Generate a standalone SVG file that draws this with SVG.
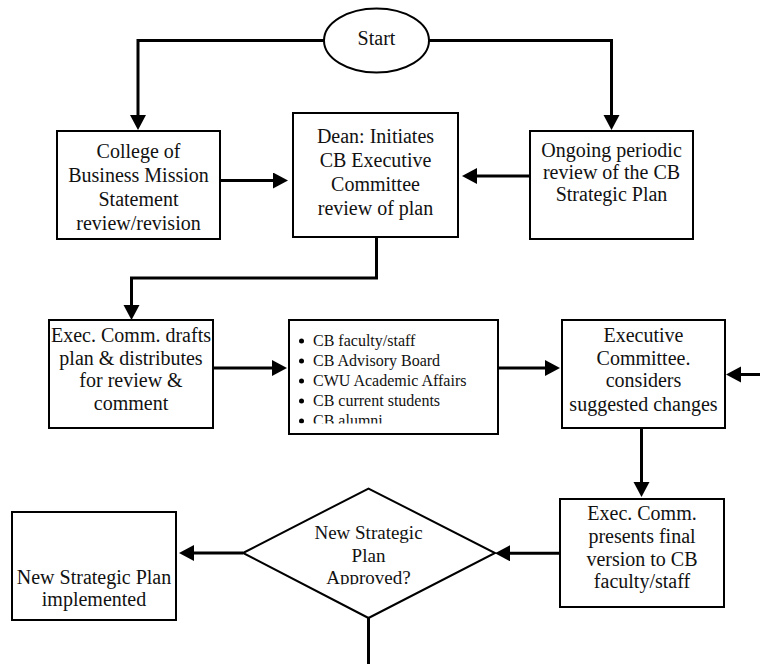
<svg xmlns="http://www.w3.org/2000/svg" width="760" height="664" viewBox="0 0 760 664">
<style>
  .box { fill: #fff; stroke: #000; stroke-width: 2; }
  .con { fill: none; stroke: #000; stroke-width: 3; marker-end: url(#arr); }
  .line { fill: none; stroke: #000; stroke-width: 3; }
  text { font-family: "Liberation Serif", "Times New Roman", serif; font-size: 20px; fill: #111; text-anchor: middle; }
  .li { font-size: 16px; text-anchor: start; }
</style>
<defs>
  <marker id="arr" markerUnits="userSpaceOnUse" markerWidth="16" markerHeight="17" refX="3" refY="8" orient="auto">
    <path d="M0,0 L15,8 L0,16 z" fill="#000"/>
  </marker>
  <clipPath id="clipList"><rect x="289" y="320" width="209" height="103.5"/></clipPath>
  <clipPath id="clipDia"><rect x="240" y="485" width="260" height="99.5"/></clipPath>
</defs>
<rect width="760" height="664" fill="#fff"/>

<g id="connectors">
  <path class="con" d="M324,40.5 H138 V118"/>
  <path class="con" d="M429,40.5 H611.5 V118"/>
  <path class="con" d="M220,180.5 H276"/>
  <path class="con" d="M530,176 H474"/>
  <path class="con" d="M376.5,237 V278 H131.5 V308"/>
  <path class="con" d="M213,368 H275"/>
  <path class="con" d="M498,368 H548"/>
  <path class="con" d="M760,374.5 H738"/>
  <path class="con" d="M641.5,428 V485"/>
  <path class="con" d="M560,553.3 H507"/>
  <path class="con" d="M243,553 H191"/>
  <path class="line" d="M368.5,618 V664"/>
</g>

<g id="start">
  <ellipse class="box" cx="376.5" cy="40.5" rx="52.5" ry="32"/>
  <text x="376.5" y="45">Start</text>
</g>

<g id="college">
  <rect class="box" x="57" y="131" width="163" height="108"/>
  <text x="138.5" y="158">College of</text>
  <text x="138.5" y="182">Business Mission</text>
  <text x="138.5" y="206">Statement</text>
  <text x="138.5" y="230">review/revision</text>
</g>

<g id="dean">
  <rect class="box" x="293" y="113" width="165" height="124"/>
  <text x="375.5" y="143">Dean: Initiates</text>
  <text x="375.5" y="167">CB Executive</text>
  <text x="375.5" y="191">Committee</text>
  <text x="375.5" y="215">review of plan</text>
</g>

<g id="ongoing">
  <rect class="box" x="530" y="131" width="163" height="108"/>
  <text x="611.5" y="157">Ongoing periodic</text>
  <text x="611.5" y="179">review of the CB</text>
  <text x="611.5" y="201">Strategic Plan</text>
</g>

<g id="drafts">
  <rect class="box" x="49" y="320" width="164" height="108"/>
  <text x="131" y="342">Exec. Comm. drafts</text>
  <text x="131" y="364.5">plan &amp; distributes</text>
  <text x="131" y="387">for review &amp;</text>
  <text x="131" y="410">comment</text>
</g>

<g id="reviewers">
  <rect class="box" x="289" y="320" width="209" height="114"/>
  <g clip-path="url(#clipList)">
    <circle cx="301.5" cy="341" r="2.5"/>
    <circle cx="301.5" cy="361" r="2.5"/>
    <circle cx="301.5" cy="381" r="2.5"/>
    <circle cx="301.5" cy="401" r="2.5"/>
    <circle cx="301.5" cy="421" r="2.5"/>
    <text class="li" x="313" y="346">CB faculty/staff</text>
    <text class="li" x="313" y="366">CB Advisory Board</text>
    <text class="li" x="313" y="386">CWU Academic Affairs</text>
    <text class="li" x="313" y="406">CB current students</text>
    <text class="li" x="313" y="426">CB alumni</text>
  </g>
</g>

<g id="executive">
  <rect class="box" x="562" y="320" width="163" height="108"/>
  <text x="643.5" y="342">Executive</text>
  <text x="643.5" y="364.5">Committee.</text>
  <text x="643.5" y="387">considers</text>
  <text x="643.5" y="410.5">suggested changes</text>
</g>

<g id="presents">
  <rect class="box" x="560" y="499" width="164" height="108"/>
  <text x="642" y="520">Exec. Comm.</text>
  <text x="642" y="543">presents final</text>
  <text x="642" y="566">version to CB</text>
  <text x="642" y="588">faculty/staff</text>
</g>

<g id="decision">
  <polygon class="box" points="243,553 368.5,488.5 495,553 368.5,618"/>
  <g clip-path="url(#clipDia)">
    <text x="368.5" y="538.5" style="font-size:19px">New Strategic</text>
    <text x="368.5" y="561.5" style="font-size:19px">Plan</text>
    <text x="368.5" y="584" style="font-size:19px">Approved?</text>
  </g>
</g>

<g id="implemented">
  <rect class="box" x="12" y="512" width="164" height="108"/>
  <text x="94" y="583.5">New Strategic Plan</text>
  <text x="94" y="606">implemented</text>
</g>
</svg>
